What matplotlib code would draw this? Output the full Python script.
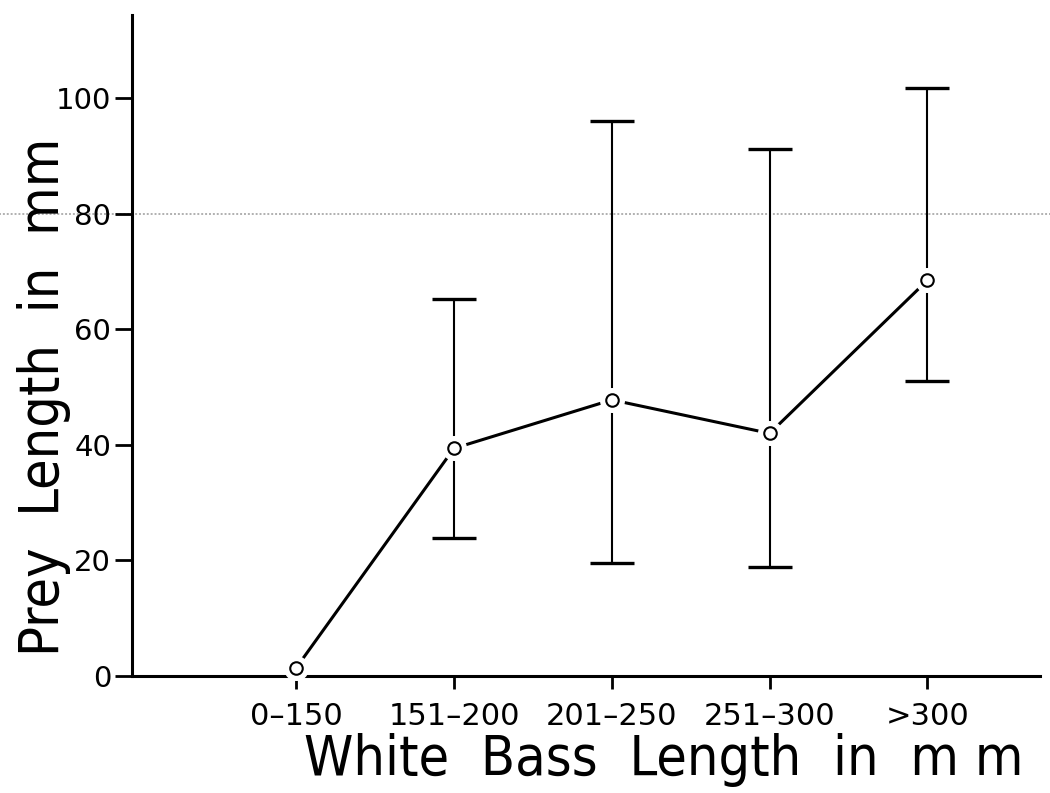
import matplotlib
matplotlib.use("Agg")
import matplotlib.pyplot as plt
import numpy as np

categories = ["0\u2013150", "151\u2013200", "201\u2013250", "251\u2013300", ">300"]
mean_prey = [1.4, 39.4, 47.8, 42.0, 68.5]
lower = [None, 23.9, 19.5, 18.9, 51.0]
upper = [None, 65.2, 96.0, 91.2, 101.7]
yticks = [0, 20, 40, 60, 80, 100]

fig = plt.figure(figsize=(10.5, 7.93), dpi=100)
ax = fig.add_axes([0.1257, 0.1475, 0.8643, 0.8335])

x = np.arange(1, len(categories) + 1)

# reference (scan) line at 80
ax.axhline(80, xmin=-0.2, xmax=1.02, color="#b0b0b0", lw=1.4, ls=(0, (1, 1)), clip_on=False, zorder=1)

ax.plot(x, mean_prey, color="black", lw=2.2, zorder=2, clip_on=False)
for xi, m, lo, hi in zip(x, mean_prey, lower, upper):
    if lo is None:
        continue
    ax.errorbar([xi], [m], yerr=[[m - lo], [hi - m]], fmt="none", ecolor="black",
                elinewidth=1.5, capsize=16, capthick=2.4, zorder=2)
# white halo to give gaps around markers
ax.plot(x, mean_prey, "o", ms=17, mfc="white", mec="white", zorder=3, clip_on=False)
ax.plot(x, mean_prey, "o", ms=9, mfc="white", mec="black", mew=1.5, zorder=4, clip_on=False)

ax.set_xlim(-0.04, 5.71)
ax.set_ylim(0, 114.4)
ax.set_yticks(yticks)
ax.set_xticks(x)
ax.set_xticklabels(categories)
for s in ["top", "right"]:
    ax.spines[s].set_visible(False)
for s in ["left", "bottom"]:
    ax.spines[s].set_linewidth(2.2)
ax.tick_params(axis="y", direction="out", length=12, width=2, pad=3, labelsize=21)
ax.tick_params(axis="x", direction="out", length=9, width=2, pad=10, labelsize=22)

fig.text(0.632, 0.008, "White  Bass  Length  in  m m", fontsize=40, fontstretch="condensed",
         ha="center", va="bottom")
fig.text(0.042, 0.50, "Prey  Length  in  mm", fontsize=40, fontstretch="condensed",
         rotation=90, ha="center", va="center")

fig.savefig("out.png", dpi=100)
